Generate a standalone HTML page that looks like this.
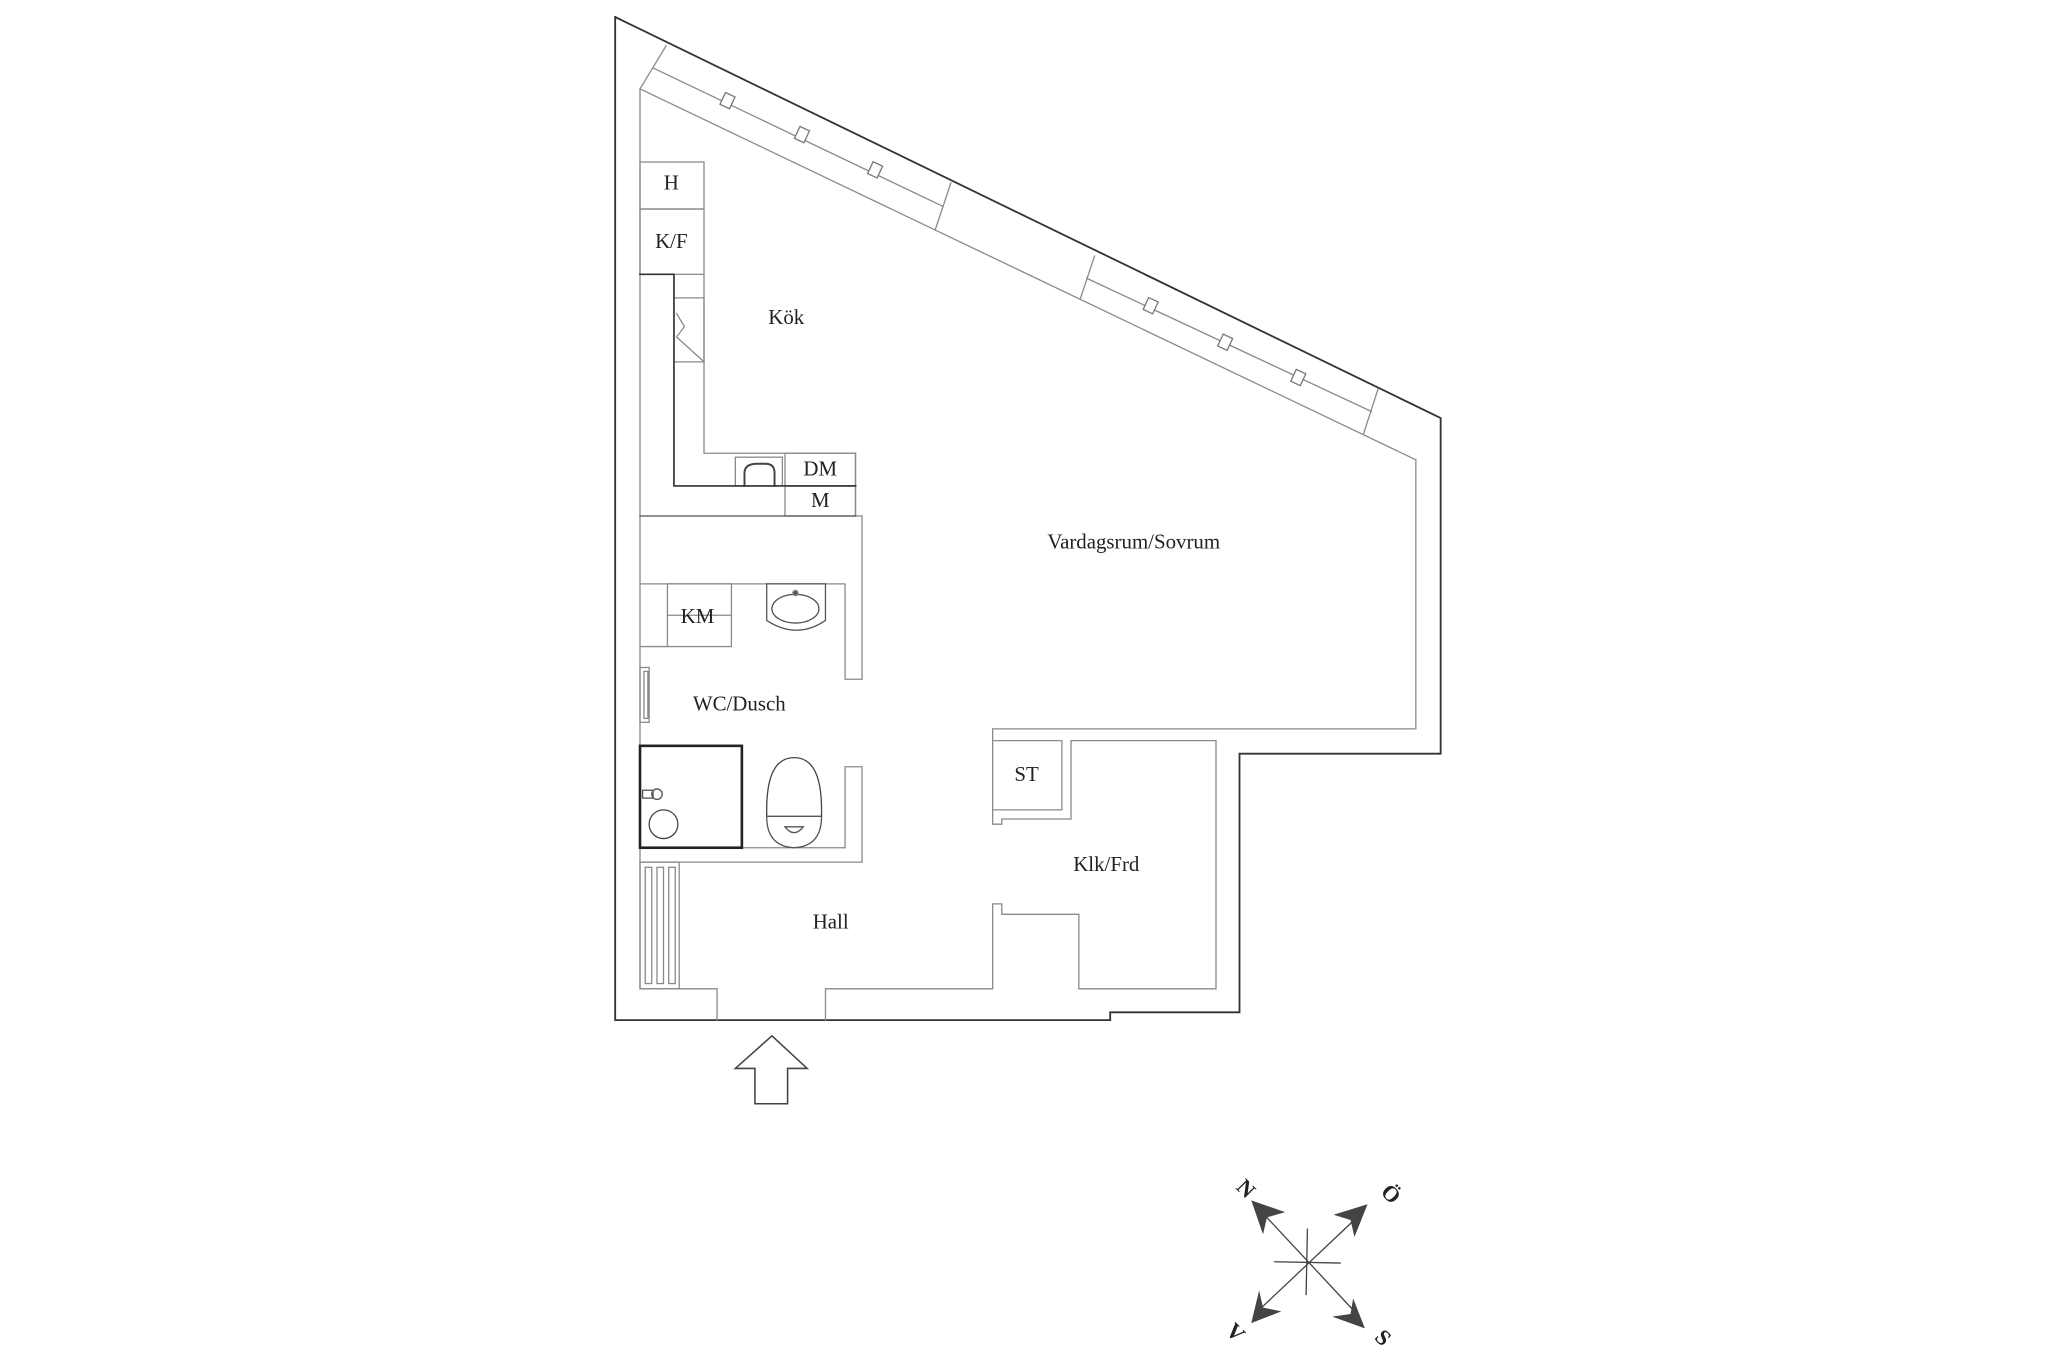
<!DOCTYPE html>
<html><head><meta charset="utf-8"><style>
html,body{margin:0;padding:0;background:#fff;}
svg{display:block;}
text{font-family:"Liberation Serif",serif;fill:#222;}
</style></head><body>
<svg width="2048" height="1365" viewBox="0 0 1568 1045" xmlns="http://www.w3.org/2000/svg">
<g fill="none" stroke-linecap="square">
<polyline points="471,13 471,781 850,781 850,775 949,775 949,577 1103,577 1103,320 471,13" stroke="#333" stroke-width="1.4"/>
<g stroke="#8a8a8a" stroke-width="1">
<line x1="490" y1="68" x2="1084" y2="352"/>
<line x1="1084" y1="352" x2="1084" y2="558"/>
<line x1="760" y1="558" x2="1084" y2="558"/>
<line x1="490" y1="68" x2="490" y2="757"/>
<line x1="510" y1="35" x2="490" y2="68"/>
<line x1="728" y1="140" x2="716" y2="176"/>
<line x1="500" y1="52" x2="722" y2="158"/>
<line x1="838" y1="196" x2="827" y2="229"/>
<line x1="1055" y1="298" x2="1044" y2="332"/>
<line x1="832" y1="213" x2="1050" y2="315"/>
<rect x="490" y="124" width="49" height="36"/>
<rect x="490" y="160" width="49" height="50"/>
<polyline points="539,210 539,347 655,347 655,395"/>
<rect x="601" y="347" width="54" height="25"/>
<rect x="601" y="372" width="54" height="23"/>
<polyline points="516,228 539,228 539,277 516,277"/>
<polyline points="518,240 524,250 518,258 539,277"/>
<rect x="563" y="350" width="36" height="22"/>
<path d="M570,372 V362 Q570,355 580,355 H586 Q593,355 593,362 V372" stroke="#444" stroke-width="1.5"/>
<line x1="655" y1="395" x2="660" y2="395"/>
<polyline points="490,447 647,447 647,520 660,520 660,395"/>
<polyline points="647,649 647,587 660,587 660,660 490,660"/>
<line x1="490" y1="649" x2="647" y2="649"/>
<rect x="511" y="447" width="49" height="48"/>
<line x1="490" y1="495" x2="511" y2="495"/>
<line x1="511" y1="471" x2="560" y2="471"/>
<path d="M587,447 H632 V475 Q610,490 587,475 Z" stroke="#555"/>
<ellipse cx="609" cy="466" rx="18" ry="11" stroke="#555"/>
<circle cx="609" cy="454" r="2" fill="#555"/>
<rect x="490" y="511" width="7" height="42"/>
<rect x="493" y="514" width="3" height="36"/>
<circle cx="508" cy="631" r="11" stroke="#444"/>
<rect x="492" y="605" width="8" height="6" stroke="#555"/>
<circle cx="503" cy="608" r="4" stroke="#555"/>
<path d="M587,620 Q587,580 608,580 Q629,580 629,620 V625 H587 Z" stroke="#444"/>
<path d="M587,625 H629 Q629,648 608,649 Q587,648 587,625 Z" stroke="#555"/>
<path d="M601,633 H615 Q608,642 601,633 Z" stroke="#555"/>
<rect x="490" y="660" width="30" height="97"/>
<rect x="494" y="664" width="5" height="89"/>
<rect x="503" y="664" width="5" height="89"/>
<rect x="512" y="664" width="5" height="89"/>
<polyline points="490,757 549,757 549,781"/>
<polyline points="632,781 632,757 760,757 760,692 767,692 767,700 826,700 826,757 931,757 931,567 820,567 820,627 767,627 767,631 760,631 760,558"/>
<polyline points="760,567 813,567 813,620 760,620"/>
</g>
<rect x="490" y="571" width="78" height="78" stroke="#222" stroke-width="2"/>
<polyline points="490,210 516,210 516,372 655,372" stroke="#333" stroke-width="1.3"/>
<line x1="490" y1="395" x2="655" y2="395" stroke="#555" stroke-width="1"/>
<g stroke="#777" stroke-width="1" fill="#fff">
<rect x="-4" y="-5" width="8" height="10" transform="translate(557,77) rotate(25)"/>
<rect x="-4" y="-5" width="8" height="10" transform="translate(614,103) rotate(25)"/>
<rect x="-4" y="-5" width="8" height="10" transform="translate(670,130) rotate(25)"/>
<rect x="-4" y="-5" width="8" height="10" transform="translate(881,234) rotate(25)"/>
<rect x="-4" y="-5" width="8" height="10" transform="translate(938,262) rotate(25)"/>
<rect x="-4" y="-5" width="8" height="10" transform="translate(994,289) rotate(25)"/>
</g>
<polygon points="591,793 618,818 603,818 603,845 578,845 578,818 563,818" stroke="#444" stroke-width="1.2"/>
<g stroke="#444" stroke-width="1">
<line x1="1001" y1="941" x2="1000" y2="991"/>
<line x1="976" y1="966" x2="1026" y2="967"/>
<line x1="968" y1="930" x2="1037" y2="1004"/>
<line x1="1039" y1="932" x2="966" y2="1001"/>
</g>
<g fill="#444" stroke="none">
<polygon points="958,919 984,928 970,932 967,945"/>
<polygon points="1047,922 1021,930 1034,934 1037,947"/>
<polygon points="958,1013 964,988 967,1001 981,1004"/>
<polygon points="1045,1017 1036,994 1034,1006 1020,1008"/>
</g>
</g>
<g font-size="16" text-anchor="middle">
<text x="602" y="248">Kök</text>
<text x="868" y="420">Vardagsrum/Sovrum</text>
<text x="566" y="544">WC/Dusch</text>
<text x="636" y="711">Hall</text>
<text x="847" y="667">Klk/Frd</text>
<text x="786" y="598">ST</text>
<text x="534" y="477">KM</text>
<text x="628" y="364">DM</text>
<text x="628" y="388">M</text>
<text x="514" y="145">H</text>
<text x="514" y="190">K/F</text>
</g>
<g font-size="17" font-weight="bold" text-anchor="middle" fill="#333">
<text transform="translate(950,914) rotate(45)">N</text>
<text transform="translate(1061,918) rotate(45)">Ö</text>
<text transform="translate(942,1024) rotate(45)">V</text>
<text transform="translate(1055,1028) rotate(45)">S</text>
</g>
</svg>
</body></html>
